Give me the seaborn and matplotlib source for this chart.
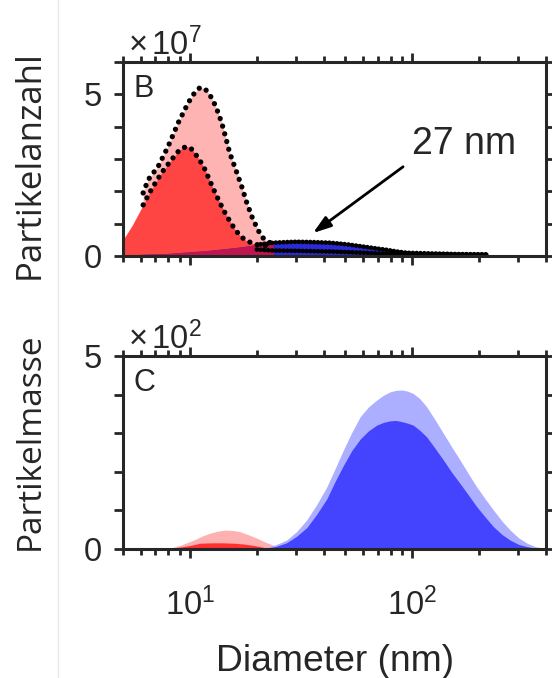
import numpy as np
import pandas as pd
import matplotlib
matplotlib.use("Agg")
import matplotlib.pyplot as plt
from matplotlib.lines import Line2D
from matplotlib.ticker import LogLocator, LogFormatterSciNotation, NullFormatter
import seaborn as sns

# ---------------- data ----------------
# Panel B: particle number (units of 1e7), diameter in nm
b_pink_d = [6.16, 6.49, 7.2, 7.98, 8.86, 9.83, 10.5, 11.1, 11.7, 12.3, 12.8, 13.2, 13.9, 14.5, 15.1, 16.1, 17.1, 18.0, 19.0, 20.0, 21.0, 22.2, 23.3]
b_pink_n = [1.95, 2.36, 2.77, 3.39, 4.12, 4.74, 5.05, 5.21, 5.17, 4.98, 4.76, 4.55, 4.12, 3.66, 3.19, 2.66, 2.15, 1.66, 1.22, 0.88, 0.60, 0.46, 0.39]

b_red_d = [5.0, 5.5, 6.16, 6.7, 7.45, 8.27, 9.0, 9.66, 10.1, 10.5, 11.1, 11.7, 12.3, 13.0, 13.7, 14.4, 15.2, 16.0, 16.8, 17.7, 19.0, 20.3, 23.0]
b_red_n = [0.50, 0.95, 1.58, 2.05, 2.57, 2.98, 3.29, 3.39, 3.33, 3.19, 2.95, 2.67, 2.32, 1.95, 1.62, 1.33, 1.05, 0.81, 0.63, 0.50, 0.40, 0.34, 0.30]

b_blue_d = [5.0, 8.0, 12.0, 16.0, 20.0, 23.7, 27.0, 30.2, 36.0, 42.8, 51.0, 60.4, 68.0, 76.9, 85.0, 94.5, 107.0, 120.0, 160.0, 217.0]
b_blue_n = [0.03, 0.08, 0.17, 0.26, 0.35, 0.41, 0.43, 0.44, 0.43, 0.41, 0.36, 0.29, 0.24, 0.19, 0.14, 0.10, 0.09, 0.08, 0.06, 0.05]

b_blue2_d = [20.0, 23.7, 30.2, 42.8, 60.4, 76.9, 94.5, 120.0, 160.0, 217.0]
b_blue2_n = [0.20, 0.17, 0.16, 0.14, 0.10, 0.07, 0.05, 0.04, 0.04, 0.04]

# Panel C: particle mass (units of 1e2)
c_lblue_d = [21.4, 24.1, 27.2, 30.2, 33.5, 37.2, 41.3, 45.0, 49.0, 53.5, 58.4, 63.6, 69.3, 74.2, 79.5, 84.6, 89.9, 95.3,
             101, 108, 116, 126, 138, 150, 164, 179, 195, 213, 232, 253, 276, 301, 329, 358, 390]
c_lblue_m = [0.02, 0.10, 0.23, 0.45, 0.75, 1.15, 1.61, 2.08, 2.56, 3.02, 3.43, 3.68, 3.86, 3.98, 4.07, 4.11, 4.12, 4.09,
             4.03, 3.90, 3.69, 3.37, 3.00, 2.66, 2.31, 1.95, 1.61, 1.30, 1.01, 0.73, 0.49, 0.29, 0.15, 0.06, 0.02]

c_dblue_d = [22.0, 24.5, 27.2, 30.2, 33.5, 37.2, 41.3, 45.0, 49.0, 53.5, 58.4, 63.6, 69.3, 74.2, 79.5, 84.6, 89.9, 95.3,
             101, 108, 116, 126, 138, 150, 164, 179, 195, 213, 232, 253, 276, 301, 329, 358, 390]
c_dblue_m = [0.02, 0.07, 0.16, 0.33, 0.55, 0.90, 1.30, 1.75, 2.16, 2.55, 2.85, 3.06, 3.21, 3.28, 3.32, 3.33, 3.30, 3.26,
             3.21, 3.08, 2.91, 2.63, 2.31, 2.00, 1.70, 1.40, 1.10, 0.83, 0.58, 0.38, 0.23, 0.12, 0.06, 0.02, 0.01]

c_lred_d = [5.5, 7.85, 9.0, 10.4, 11.3, 12.3, 13.3, 14.4, 15.5, 16.8, 18.3, 20.0, 21.8, 23.7, 25.3, 27.0]
c_lred_m = [0.00, 0.00, 0.09, 0.23, 0.33, 0.41, 0.46, 0.49, 0.48, 0.45, 0.37, 0.28, 0.18, 0.10, 0.05, 0.02]

c_dred_d = [5.5, 7.85, 9.3, 10.2, 11.1, 12.5, 14.1, 15.7, 17.4, 19.0, 20.7, 22.0, 23.7]
c_dred_m = [0.005, 0.01, 0.06, 0.10, 0.15, 0.16, 0.16, 0.15, 0.13, 0.10, 0.06, 0.03, 0.01]

y_tick_vals = [0, 1, 2, 3, 4, 5, 6]
y_tick_labels = ["0", "", "", "", "", "5", ""]
c_tick_vals = [0, 1, 2, 3, 4, 5]
c_tick_labels = ["0", "", "", "", "", "5"]

# ---------------- styling ----------------
sns.set_theme(style="ticks")
plt.rcParams["font.family"] = ["Liberation Sans", "DejaVu Sans"]
plt.rcParams["mathtext.fontset"] = "custom"
plt.rcParams["mathtext.rm"] = "Liberation Sans"
plt.rcParams["mathtext.it"] = "Liberation Sans:italic"
plt.rcParams["mathtext.bf"] = "Liberation Sans:bold"
plt.rcParams["lines.dash_capstyle"] = "round"

INK = "#262626"
TICK_FS = 23.5

fig = plt.figure(figsize=(5.52, 6.78), dpi=100)
fig.patch.set_facecolor("white")

W, H = 552.0, 678.0
axB = fig.add_axes([123 / W, 1 - 256 / H, 423 / W, 194 / H])
axC = fig.add_axes([123 / W, 1 - 549 / H, 423 / W, 193 / H])

def dotted(ax, x, y, lw=3.8, gap=1.5, z=5):
    sns.lineplot(x=x, y=y, ax=ax, color="black", lw=lw, sort=False, estimator=None,
                 errorbar=None, linestyle=(0, (0.01, gap)), dash_capstyle="round", zorder=z)

# Panel B fills
axB.fill_between(b_pink_d, 0, b_pink_n, color="#ffb4b4", lw=0, zorder=1)
axB.fill_between(b_red_d, 0, b_red_n, color="#ff4444", lw=0, zorder=2)
axB.fill_between(b_blue_d, 0, b_blue_n, color="#2a2ad6", lw=0, zorder=3)
n_over = 5
axB.fill_between(b_blue_d[:n_over + 1], 0, b_blue_n[:n_over + 1], color="#c01650", lw=0, zorder=3.5)

dotted(axB, b_pink_d, b_pink_n)
dotted(axB, b_red_d[2:], b_red_n[2:])
dotted(axB, b_blue_d[4:], b_blue_n[4:], lw=3.4, gap=0.8)
dotted(axB, b_blue2_d, b_blue2_n, lw=3.4, gap=0.8)

# annotation
axB.annotate("", xy=(35.8, 0.71), xytext=(91, 2.76),
             arrowprops=dict(arrowstyle="-|>,head_length=0.9,head_width=0.3",
                             color="black", lw=2.0, shrinkA=0, shrinkB=0), zorder=6)
axB.text(100, 3.45, "27 nm", ha="left", va="center", fontsize=27, color=INK, zorder=6)

# Panel C fills
axC.fill_between(c_lred_d, 0, c_lred_m, color="#ffb0b0", lw=0, zorder=1)
axC.fill_between(c_dred_d, 0, c_dred_m, color="#ff3030", lw=0, zorder=2)
axC.fill_between(c_lblue_d, 0, c_lblue_m, color="#acaeff", lw=0, zorder=3)
axC.fill_between(c_dblue_d, 0, c_dblue_m, color="#4444ff", lw=0, zorder=4)

for ax, ymax, yv, yl, letter, mult in [
    (axB, 6, y_tick_vals, y_tick_labels, "B", "7"),
    (axC, 5, c_tick_vals, c_tick_labels, "C", "2"),
]:
    ax.set_xscale("log")
    ax.set_xlim(5, 400)
    ax.set_ylim(0, ymax)
    ax.set_facecolor("white")
    ax.xaxis.set_major_locator(LogLocator(base=10, numticks=10))
    ax.xaxis.set_minor_locator(LogLocator(base=10, subs=np.arange(2, 10), numticks=20))
    ax.xaxis.set_minor_formatter(NullFormatter())
    ax.set_yticks(yv)
    ax.set_yticklabels(yl)
    ax.set_xlabel("")
    ax.set_ylabel("")
    for s in ax.spines.values():
        s.set_visible(True)
        s.set_linewidth(2.2)
        s.set_color(INK)
        s.set_zorder(7)
    ax.tick_params(which="both", direction="out", top=True, right=True, color=INK,
                   width=2.0, labelsize=TICK_FS, labelcolor=INK)
    ax.tick_params(which="major", length=6.5)
    ax.tick_params(axis="y", which="major", pad=9)
    ax.tick_params(axis="x", which="major", pad=21)
    ax.tick_params(which="minor", length=4.3)
    ax.text(0.026, 0.94, letter, transform=ax.transAxes, ha="left", va="top",
            fontsize=22, color=INK, zorder=8)
    ax.text(0.012, 1.035, "×$\\,$10$^{" + mult + "}$", transform=ax.transAxes, ha="left",
            va="baseline", fontsize=TICK_FS, color=INK)

axB.xaxis.set_major_formatter(NullFormatter())
axC.xaxis.set_major_formatter(LogFormatterSciNotation())
axC.set_xlabel("Diameter (nm)", fontsize=26.8, color=INK, labelpad=16)

fig.text(30 / W, 1 - 165 / H, "Partikelanzahl", rotation=90, ha="center", va="center",
         fontsize=25, family=["Open Sans", "DejaVu Sans"], color=INK)
fig.text(30 / W, 1 - 441 / H, "Partikelmasse", rotation=90, ha="center", va="center",
         fontsize=24, family=["Open Sans", "DejaVu Sans"], color=INK)

fig.add_artist(Line2D([58 / W, 58 / W], [0, 1], transform=fig.transFigure,
                      color="#e8e8e8", lw=1.0))

fig.savefig("out.png", dpi=100, facecolor="white")
